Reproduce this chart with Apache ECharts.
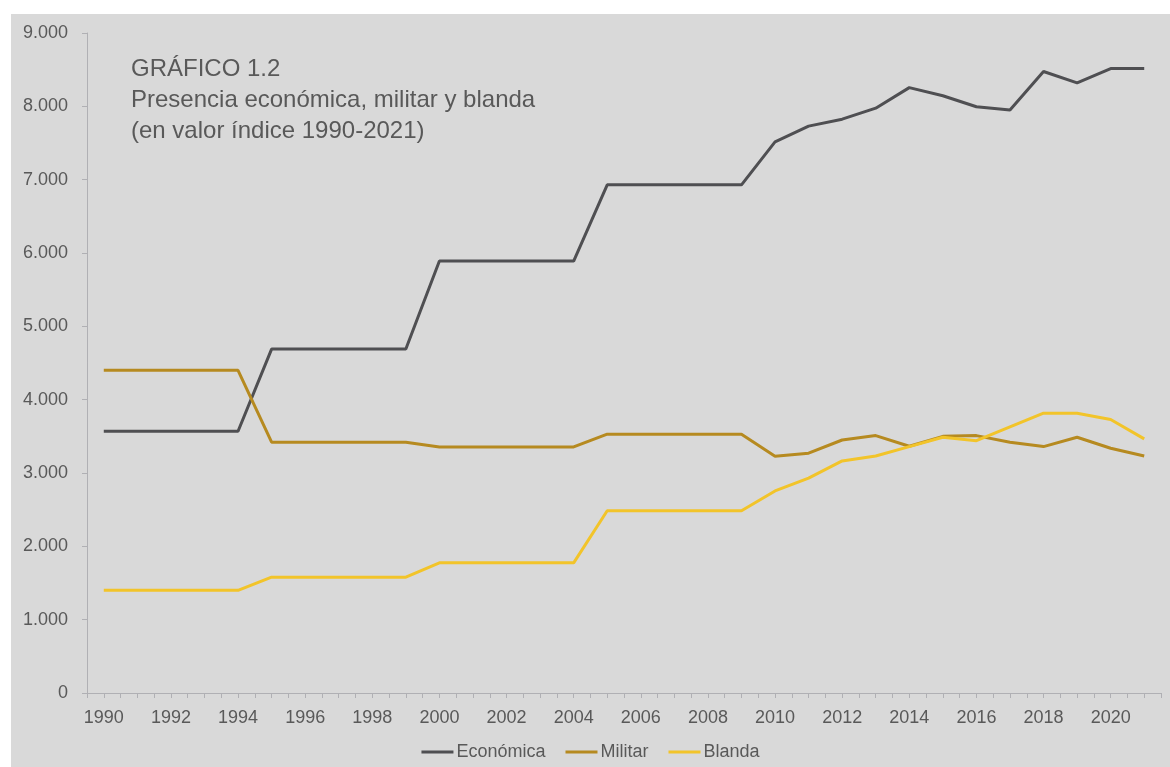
<!DOCTYPE html>
<html>
<head>
<meta charset="utf-8">
<script src="https://cdn.jsdelivr.net/npm/echarts@6/dist/echarts.min.js"></script>
<style>
html,body{margin:0;padding:0;background:#ffffff;width:1170px;height:767px;overflow:hidden;}
#chart{position:absolute;left:11px;top:14px;width:1159px;height:753px;}
</style>
</head>
<body>
<div id="chart"></div>
<script>
const years = [1990,1991,1992,1993,1994,1995,1996,1997,1998,1999,2000,2001,2002,2003,2004,2005,2006,2007,2008,2009,2010,2011,2012,2013,2014,2015,2016,2017,2018,2019,2020,2021];
const economica = [3570,3570,3570,3570,3570,4690,4690,4690,4690,4690,5890,5890,5890,5890,5890,6930,6930,6930,6930,6930,7515,7730,7825,7975,8255,8145,7995,7950,8475,8320,8515,8515];
const militar = [4400,4400,4400,4400,4400,3420,3420,3420,3420,3420,3355,3355,3355,3355,3355,3530,3530,3530,3530,3530,3230,3270,3450,3510,3365,3500,3510,3420,3360,3487,3337,3232];
const blanda = [1400,1400,1400,1400,1400,1580,1580,1580,1580,1580,1775,1775,1775,1775,1775,2485,2485,2485,2485,2485,2755,2930,3165,3232,3360,3487,3441,3630,3815,3815,3730,3465];
const seriesNames = ['Económica','Militar','Blanda'];
const titleLines = ['GRÁFICO 1.2','Presencia económica, militar y blanda','(en valor índice 1990-2021)'];

const font = 'Liberation Sans, Arial, sans-serif';
const textColor = '#595959';
const pair = arr => years.map((y,i)=>[y,arr[i]]);
const chart = echarts.init(document.getElementById('chart'));
chart.setOption({
  backgroundColor:'#d9d9d9',
  animation:false,
  title:{
    text:titleLines.join('\n'),
    left:120, top:40, padding:0,
    textStyle:{fontFamily:font,fontSize:24,lineHeight:31,fontWeight:'normal',color:textColor}
  },
  legend:{
    data:seriesNames,
    bottom:6, left:'center', padding:0,
    icon:'rect', itemWidth:32, itemHeight:3, itemGap:20,
    textStyle:{fontFamily:font,fontSize:18,color:textColor,padding:[0,0,0,-2]}
  },
  grid:{left:76, top:19, right:9, bottom:74, containLabel:false},
  xAxis:{
    type:'value', min:1989.5, max:2021.5, interval:0.5,
    splitLine:{show:false},
    axisLine:{show:true,lineStyle:{color:'#b0b0b4',width:1}},
    axisTick:{show:true,length:5,lineStyle:{color:'#b0b0b4'}},
    axisLabel:{
      fontFamily:font,fontSize:18,color:textColor,margin:16,
      showMinLabel:true, showMaxLabel:true,
      formatter:v=>(Math.abs(v-Math.round(v))<1e-6 && Math.round(v)%2===0)?String(Math.round(v)):''
    }
  },
  yAxis:{
    type:'value', min:0, max:9000, interval:1000,
    splitLine:{show:false},
    axisLine:{show:true,lineStyle:{color:'#b0b0b4',width:1}},
    axisTick:{show:true,length:5,lineStyle:{color:'#b0b0b4'}},
    axisLabel:{
      fontFamily:font,fontSize:18,color:textColor,margin:19,
      formatter:v=>v===0?'0':String(v).replace(/\B(?=(\d{3})+(?!\d))/g,'.')
    }
  },
  series:[
    {name:seriesNames[0],type:'line',data:pair(economica),showSymbol:false,symbol:'none',lineStyle:{color:'#4f4f52',width:3},itemStyle:{color:'#4f4f52'}},
    {name:seriesNames[1],type:'line',data:pair(militar),showSymbol:false,symbol:'none',lineStyle:{color:'#b68a20',width:3},itemStyle:{color:'#b68a20'}},
    {name:seriesNames[2],type:'line',data:pair(blanda),showSymbol:false,symbol:'none',lineStyle:{color:'#f2c42a',width:3},itemStyle:{color:'#f2c42a'}}
  ]
});
</script>
</body>
</html>
